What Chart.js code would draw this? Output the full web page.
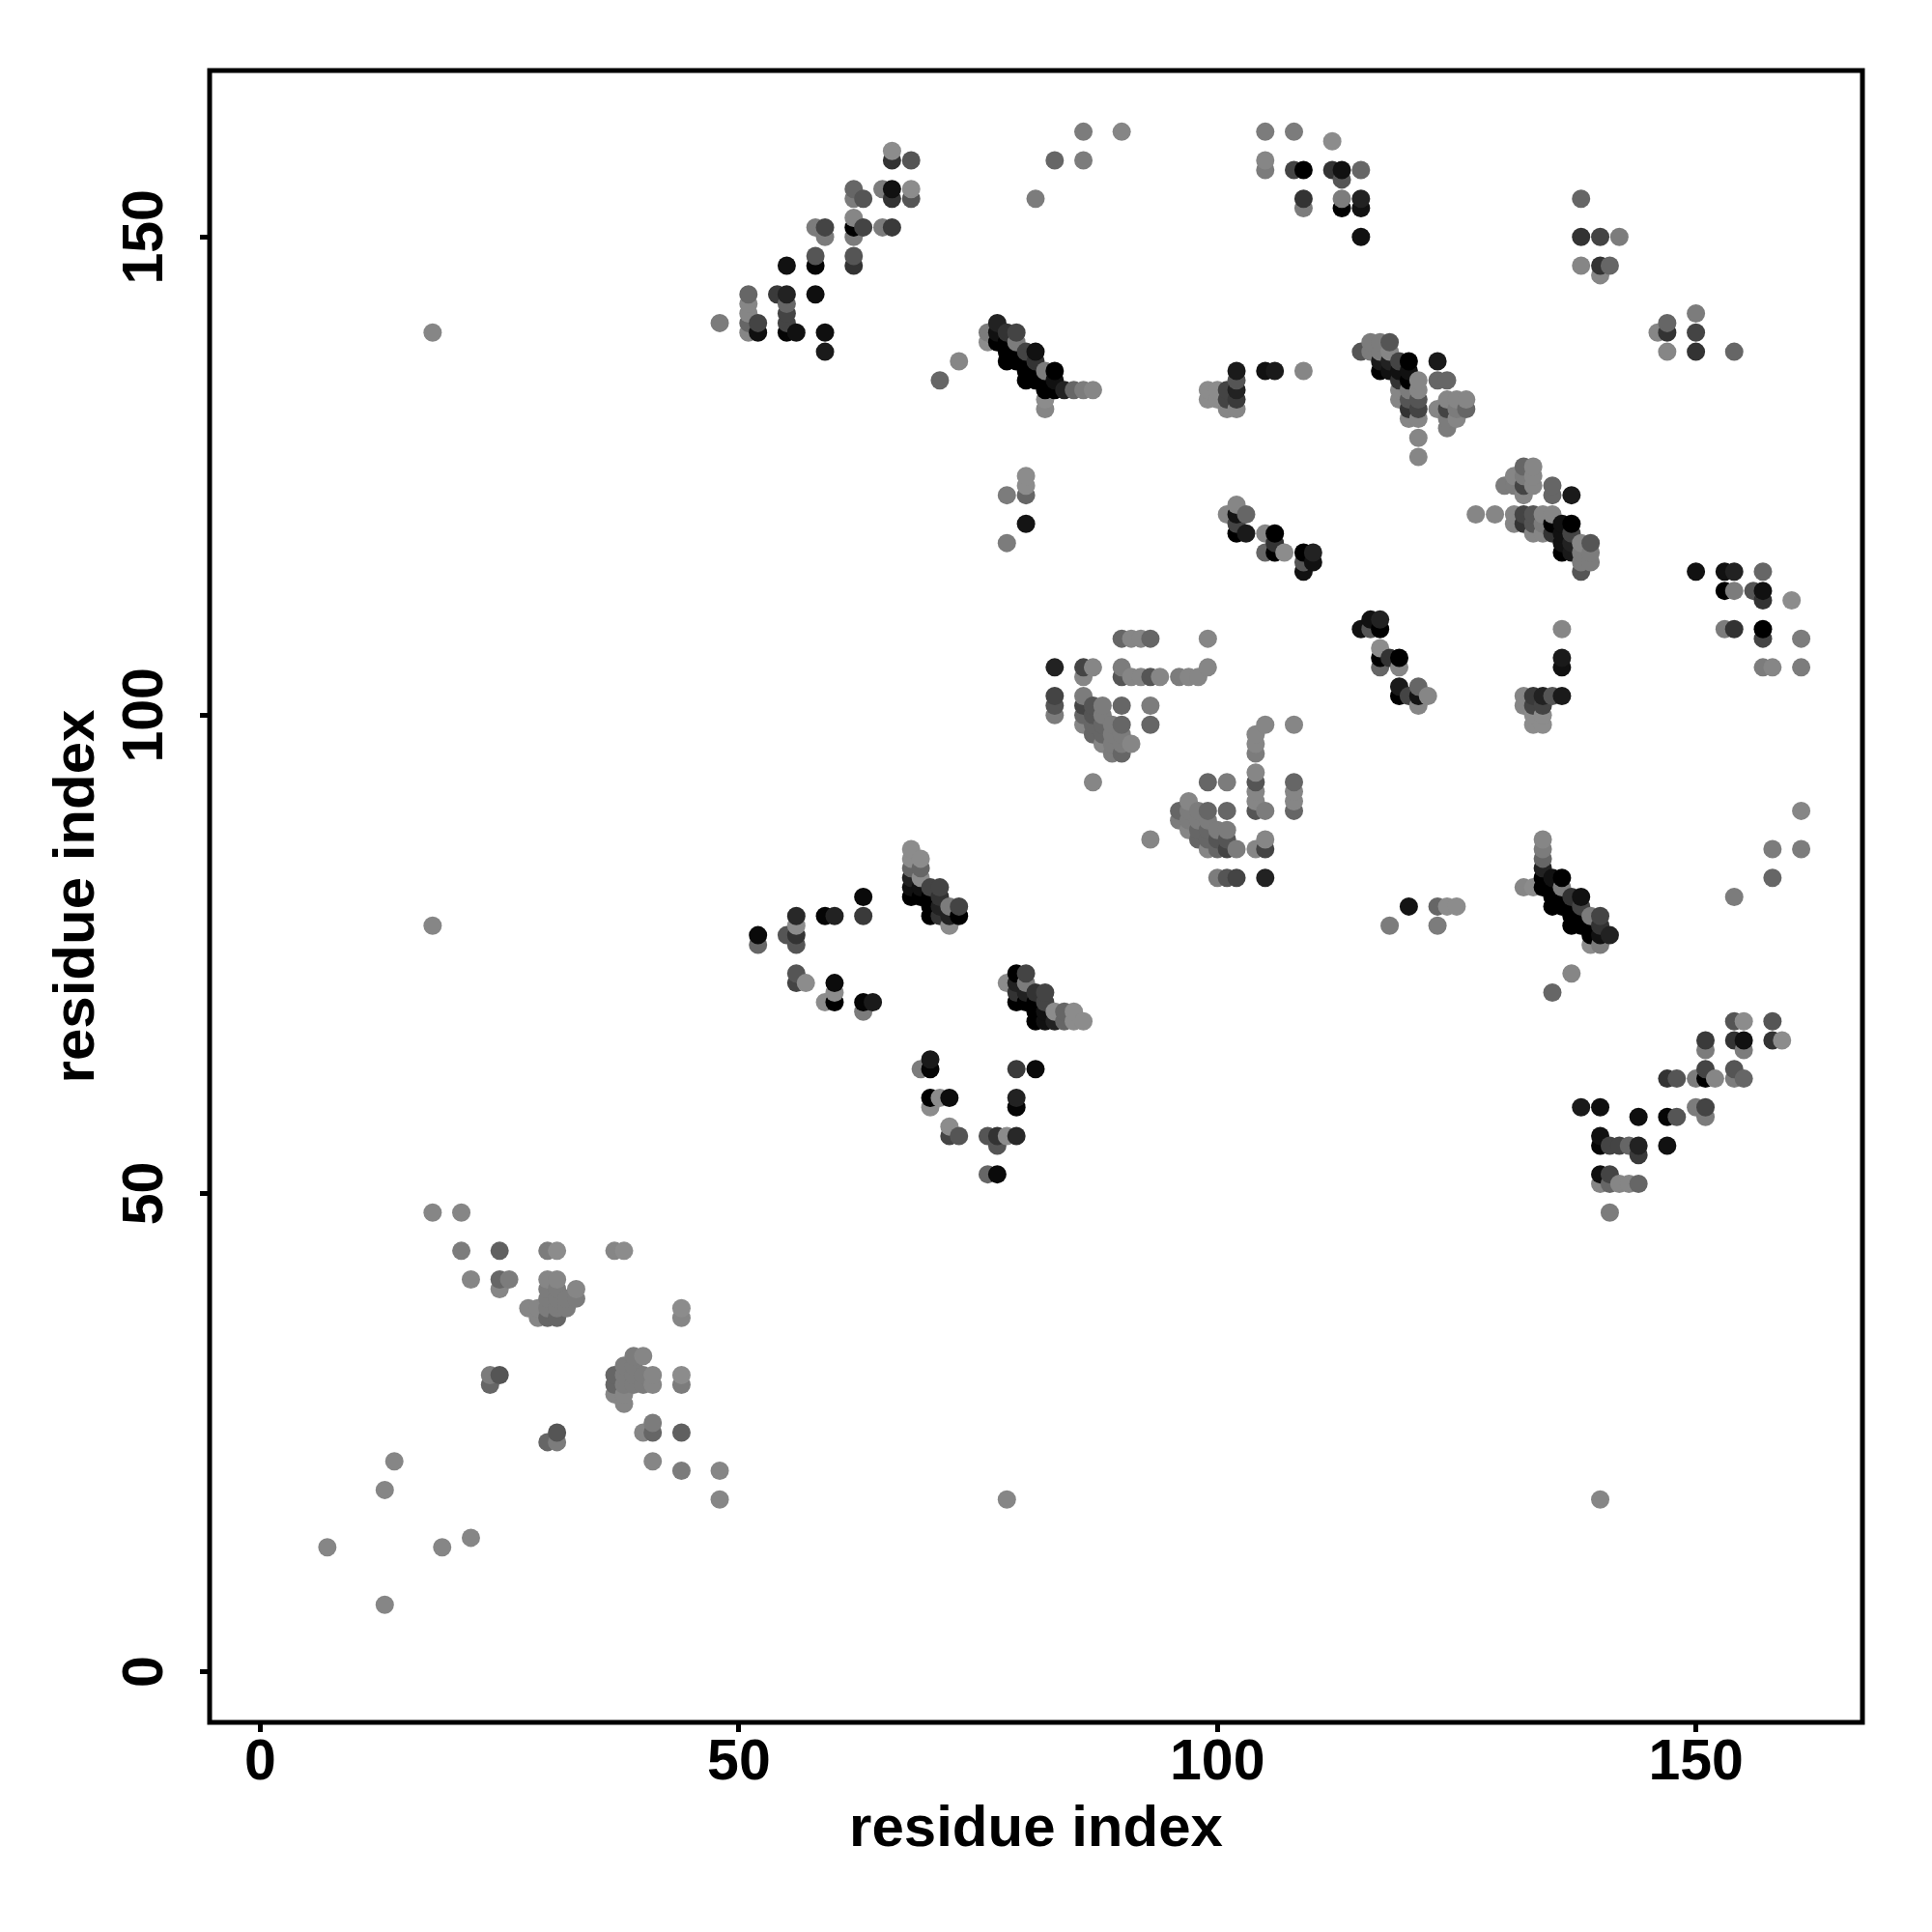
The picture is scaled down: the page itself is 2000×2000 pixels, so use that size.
<!DOCTYPE html>
<html>
<head>
<meta charset="utf-8">
<title>residue contact map</title>
<script src="https://cdn.jsdelivr.net/npm/chart.js@4/dist/chart.umd.min.js"></script>
<style>
  html, body { margin: 0; padding: 0; background: #fff; }
  canvas { display: block; }
</style>
</head>
<body>
<canvas id="contactChart" width="2000" height="2000"></canvas>
<script>
// contacts, upper triangle only (the map is symmetric)
const contactFrom = [7, 13, 14, 18, 21, 22, 24, 25, 26, 28, 29, 30, 31, 32, 33, 37, 38,
  48, 51, 52, 54, 55, 56, 57, 58, 59, 60, 62, 63, 64, 65, 66, 68, 69, 70, 71, 72, 73,
  76, 77, 78, 79, 80, 81, 82, 83, 84, 85, 86, 87, 88, 89, 90, 91, 92, 93, 94, 96, 97, 98,
  99, 100, 101, 102, 103, 105, 106, 107, 108, 109, 110, 112, 113, 115, 116, 117, 118,
  119, 120, 121, 123, 124, 125, 126, 138, 140, 141, 142];

const contactTo = [
  [13], [19], [22], [48, 78, 140], [44, 48], [41], [30, 31], [31, 40, 41, 44], [41], [38],
  [37, 38], [37, 38, 39, 40, 41, 44], [37, 38, 39, 40, 41, 44], [38, 39], [39, 40], [44], [44],
  [141], [140, 141, 142, 143, 144], [76, 77, 140, 141], [144],
  [77, 140, 141, 142, 143, 144, 147], [72, 73, 76, 77, 78, 79, 140], [72],
  [144, 147, 148, 151], [70, 79, 138, 140, 150, 151], [70, 71, 72, 79],
  [147, 148, 150, 151, 152, 154, 155], [69, 70, 79, 81, 151, 154], [70], [151, 155],
  [151, 154, 155, 158, 159], [81, 82, 83, 84, 85, 86, 154, 155, 158], [81, 82, 83, 84, 85],
  [79, 80, 81, 82], [79, 80, 81, 82, 135], [78, 79, 80], [79, 80, 137],
  [139, 140], [139, 140, 141], [118, 123, 137, 138, 139, 140], [137, 138, 139, 140],
  [120, 123, 124, 125, 135, 136, 137, 138], [135, 136, 137, 138, 154], [132, 133, 134, 135, 136],
  [100, 101, 102, 105, 134, 135, 136, 158], [134], [134],
  [99, 100, 101, 102, 104, 105, 134, 158, 161], [93, 98, 99, 100, 101, 105, 134],
  [97, 98, 99, 100, 101], [96, 97, 98, 99], [96, 97, 98, 99, 101, 104, 105, 108, 161],
  [97, 104, 108], [104, 108], [99, 101, 104, 108], [104], [104], [104], [104],
  [105, 108, 133, 134], [133, 134], [121, 132, 133, 134],
  [119, 120, 121, 122, 132, 133, 134, 135, 136], [119, 121], [117, 119, 136, 157, 158, 161],
  [117, 118, 119, 136], [117], [157, 161], [115, 116, 117, 136, 153, 154, 157], [116, 117],
  [157, 160], [153, 154, 156, 157], [138, 150, 153, 154, 157], [138, 139],
  [136, 137, 138, 139], [136, 137, 138, 139],
  [133, 134, 135, 136, 137], [131, 132, 133, 134, 135, 136, 137],
  [127, 129, 131, 132, 133, 134, 135], [132, 135, 137], [130, 131, 132, 133, 135],
  [131, 132, 133], [132, 133], [147, 150, 154], [146, 147, 150], [147], [150]
];

const contactGrey = [
  [134], [134], [134], [134, 134, 134], [124, 134], [134], [102, 124], [85, 134, 102, 96], [124], [134],
  [134, 134], [102, 124, 124, 124, 134, 124], [102, 124, 124, 124, 134, 140], [124, 124], [124, 134], [134], [140],
  [124], [134, 102, 134, 134, 102], [102, 10, 15, 68], [58],
  [85, 5, 68, 68, 102, 34, 17], [68, 85, 85, 51, 140, 40, 17], [140],
  [15, 5, 85, 124], [140, 5, 26, 15, 124, 68], [0, 140, 12, 34],
  [51, 85, 124, 0, 134, 124, 102], [124, 5, 58, 10, 68, 85], [26], [124, 124],
  [58, 51, 17, 51, 140], [0, 17, 34, 102, 140, 140, 85, 140, 85], [0, 17, 140, 102, 140],
  [0, 0, 0, 68], [51, 34, 51, 68, 102], [140, 34, 124], [0, 68, 134],
  [140, 124], [0, 17, 34], [124, 124, 0, 0, 0, 51], [0, 0, 124, 68],
  [20, 102, 140, 140, 0, 0, 0, 68], [0, 0, 51, 17, 124], [134, 140, 0, 0, 124],
  [124, 85, 68, 34, 0, 17, 0, 102], [34], [102],
  [134, 102, 68, 124, 134, 68, 124, 124, 124], [134, 102, 102, 85, 85, 134, 134],
  [134, 102, 102, 124, 124], [124, 124, 124, 124], [102, 124, 124, 102, 102, 85, 124, 102, 134],
  [134, 134, 134], [134, 134], [102, 124, 85, 102], [134], [124], [134], [134],
  [134, 134, 140, 140], [140, 140], [134, 134, 68, 68],
  [0, 68, 20, 134, 134, 58, 34, 85, 26], [26, 102], [102, 134, 17, 124, 134, 124],
  [0, 51, 0, 26], [140], [68, 124], [17, 85, 0, 134, 124, 51, 0], [17, 34],
  [51, 140], [0, 124, 85, 17], [85, 17, 17, 34, 102], [124, 124],
  [0, 26, 124, 124], [17, 34, 134, 85],
  [134, 134, 51, 17, 68], [134, 51, 85, 124, 0, 17, 0],
  [134, 134, 134, 68, 85, 134, 134], [134, 102, 26], [124, 124, 68, 134, 102],
  [134, 124, 134], [102, 134], [134, 51, 102], [134, 51, 68], [102], [124]
];

const tickValues = [0, 50, 100, 150];
const axisTitle = 'residue index';

// both halves of the map, drawn left to right so later columns sit on top
const points = [];
contactFrom.forEach((from, row) => {
  contactTo[row].forEach((to, k) => {
    const grey = contactGrey[row][k];
    points.push({ x: from, y: to, grey: grey });
    points.push({ x: to, y: from, grey: grey });
  });
});
points.sort((a, b) => a.x - b.x || a.y - b.y);

const boxPlugin = {
  id: 'box',
  afterDraw(chart) {
    const { ctx, chartArea } = chart;
    ctx.save();
    ctx.strokeStyle = '#000';
    ctx.lineWidth = 5;
    ctx.strokeRect(chartArea.left, chartArea.top, chartArea.width, chartArea.height);
    ctx.restore();
  }
};

const tickFont = { family: '"Liberation Sans"', size: 59, weight: 'bold' };
const titleFont = { family: '"Liberation Sans"', size: 60, weight: 'bold' };

function setTicks(axis) {
  axis.ticks = tickValues.map(v => ({ value: v }));
}

const ctx = document.getElementById('contactChart').getContext('2d');

new Chart(ctx, {
  type: 'scatter',
  data: {
    datasets: [{
      data: points,
      pointRadius: 9.5,
      pointBorderWidth: 0,
      pointBackgroundColor: points.map(p => `rgb(${p.grey},${p.grey},${p.grey})`)
    }]
  },
  options: {
    responsive: false,
    animation: false,
    layout: { padding: { top: 73, right: 72, bottom: 0, left: 0 } },
    plugins: { legend: { display: false }, tooltip: { enabled: false } },
    scales: {
      x: {
        min: -5.3,
        max: 167.4,
        afterBuildTicks: setTicks,
        afterFit(axis) { axis.height = 217; },
        border: { display: false },
        grid: { drawOnChartArea: false, color: '#000', lineWidth: 5, tickLength: 10 },
        ticks: { color: '#000', font: tickFont, padding: -3, maxRotation: 0, autoSkip: false },
        title: { display: true, text: axisTitle, color: '#000', font: titleFont, padding: { top: 0, bottom: 70 } }
      },
      y: {
        min: -5.3,
        max: 167.4,
        afterBuildTicks: setTicks,
        afterFit(axis) { axis.width = 217; },
        border: { display: false },
        grid: { drawOnChartArea: false, color: '#000', lineWidth: 5, tickLength: 10 },
        ticks: { color: '#000', font: tickFont, padding: 6, minRotation: 90, maxRotation: 90, crossAlign: 'center', autoSkip: false },
        title: { display: true, text: axisTitle, color: '#000', font: titleFont, padding: { top: 44, bottom: 0 } }
      }
    }
  },
  plugins: [boxPlugin]
});
</script>
</body>
</html>
